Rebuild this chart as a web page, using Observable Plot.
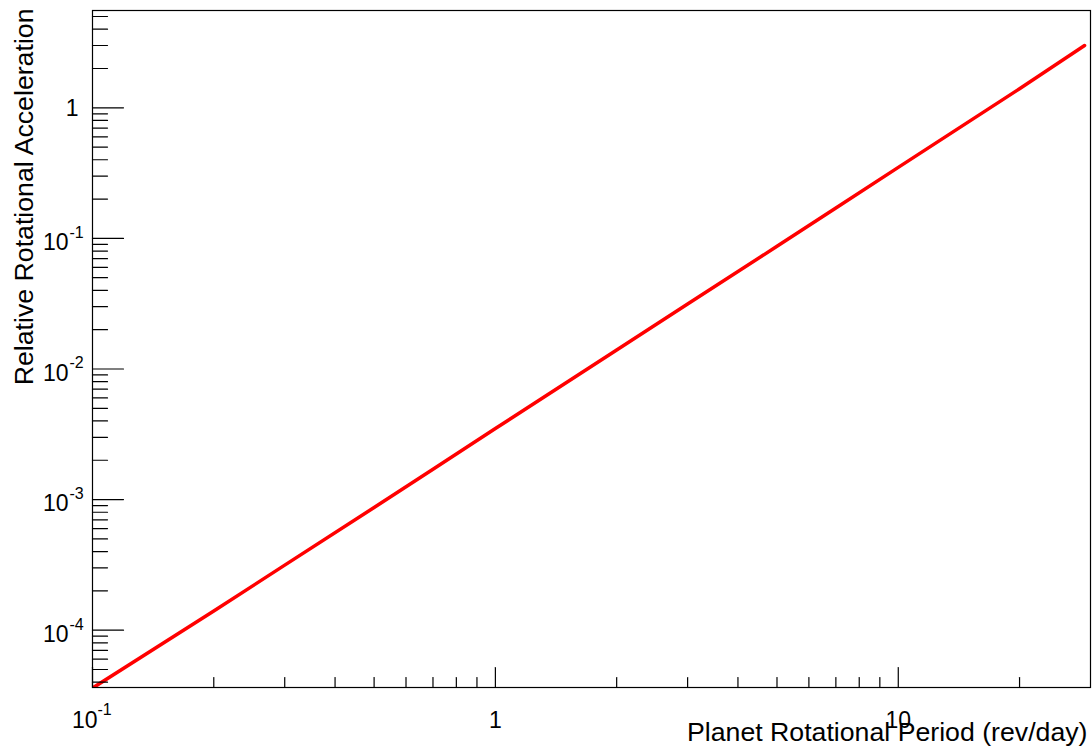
<!DOCTYPE html>
<html><head><meta charset="utf-8">
<script src="https://cdn.jsdelivr.net/npm/d3@7"></script>
<script src="https://cdn.jsdelivr.net/npm/@observablehq/plot@0.6"></script>
<style>body{margin:0;background:#fff}</style>
</head><body><div id="chart"></div>
<script>
// Data
const periods = [0.1, 0.2, 0.3, 0.5, 0.7, 1, 2, 3, 5, 7, 10, 20, 29];
const accel = [3.6e-5, 1.4e-4, 3.15e-4, 8.7e-4, 1.71e-3, 3.5e-3, 1.4e-2, 3.15e-2, 8.7e-2, 0.171, 0.35, 1.4, 3.0];

// Tick values and labels
const xMajorTicks = [0.1, 1, 10];
const xMinorTicks = [0.2, 0.3, 0.4, 0.5, 0.6, 0.7, 0.8, 0.9, 2, 3, 4, 5, 6, 7, 8, 9, 20];
const yMajorTicks = [1e-4, 1e-3, 1e-2, 0.1, 1];
const yMinorTicks = [4e-5, 5e-5, 6e-5, 7e-5, 8e-5, 9e-5,
  2e-4, 3e-4, 4e-4, 5e-4, 6e-4, 7e-4, 8e-4, 9e-4,
  2e-3, 3e-3, 4e-3, 5e-3, 6e-3, 7e-3, 8e-3, 9e-3,
  0.02, 0.03, 0.04, 0.05, 0.06, 0.07, 0.08, 0.09,
  0.2, 0.3, 0.4, 0.5, 0.6, 0.7, 0.8, 0.9,
  2, 3, 4, 5];
const xLabelValues = [0.1, 1, 10];
const xLabelBase = ["10", "1", "10"];
const xLabelExp = ["-1", "", ""];
const yLabelValues = [1e-4, 1e-3, 1e-2, 0.1, 1];
const yLabelBase = ["10", "10", "10", "10", "1"];
const yLabelExp = ["-4", "-3", "-2", "-1", ""];
const xTitle = "Planet Rotational Period (rev/day)";
const yTitle = "Relative Rotational Acceleration";

const data = periods.map((p, i) => ({p, a: accel[i]}));
const xLab = xLabelValues.map((v, i) => ({v, base: xLabelBase[i], exp: xLabelExp[i]}));
const yLab = yLabelValues.map((v, i) => ({v, base: yLabelBase[i], exp: yLabelExp[i]}));
const tickShape = {draw(ctx, l) { ctx.moveTo(0, 0); ctx.lineTo(0, -l); }};
const font = "'Liberation Sans', Arial, Helvetica, sans-serif";
const fs = 23, fsExp = 16, fsTitle = 26.7;
const tickOpts = {shape: tickShape, anchor: "start", stroke: "black", strokeWidth: 1.2};

const chart = Plot.plot({
  width: 1092, height: 749,
  marginLeft: 92, marginRight: 2, marginTop: 10, marginBottom: 62,
  x: {type: "log", domain: [0.1, 30], axis: null},
  y: {type: "log", domain: [3.64e-5, 5.56], axis: null},
  style: {fontFamily: font, background: "white", color: "black"},
  marks: [
    Plot.line(data, {x: "p", y: "a", stroke: "#ff0000", strokeWidth: 3.5, clip: true}),
    Plot.frame({stroke: "black", strokeWidth: 1.2}),
    Plot.vector(xMajorTicks, {x: d => d, frameAnchor: "bottom", length: 20, ...tickOpts}),
    Plot.vector(xMinorTicks, {x: d => d, frameAnchor: "bottom", length: 10, ...tickOpts}),
    Plot.vector(yMajorTicks, {y: d => d, frameAnchor: "left", rotate: 90, length: 31, ...tickOpts}),
    Plot.vector(yMinorTicks, {y: d => d, frameAnchor: "left", rotate: 90, length: 15, ...tickOpts}),
    // x labels with exponent
    Plot.text(xLab.filter(d => d.exp), {x: "v", text: "base", frameAnchor: "bottom", textAnchor: "end", lineAnchor: "bottom", dx: 5, dy: 40, fontSize: fs, fill: "black"}),
    Plot.text(xLab.filter(d => d.exp), {x: "v", text: "exp", frameAnchor: "bottom", textAnchor: "start", lineAnchor: "bottom", dx: 5, dy: 27, fontSize: fsExp, fill: "black"}),
    Plot.text(xLab.filter(d => !d.exp), {x: "v", text: "base", frameAnchor: "bottom", textAnchor: "middle", lineAnchor: "bottom", dx: 0, dy: 40, fontSize: fs, fill: "black"}),
    // y labels
    Plot.text(yLab.filter(d => d.exp), {y: "v", text: "base", frameAnchor: "left", textAnchor: "end", lineAnchor: "bottom", dx: -24, dy: 11.7, fontSize: fs, fill: "black"}),
    Plot.text(yLab.filter(d => d.exp), {y: "v", text: "exp", frameAnchor: "left", textAnchor: "start", lineAnchor: "bottom", dx: -23, dy: -0.5, fontSize: fsExp, fill: "black"}),
    Plot.text(yLab.filter(d => !d.exp), {y: "v", text: "base", frameAnchor: "left", textAnchor: "end", lineAnchor: "bottom", dx: -14, dy: 8, fontSize: fs, fill: "black"}),
    // titles
    Plot.text([xTitle], {frameAnchor: "bottom-right", textAnchor: "end", lineAnchor: "bottom", dx: -3, dy: 53, fontSize: fsTitle, fill: "black"}),
    Plot.text([yTitle], {frameAnchor: "top-left", rotate: -90, textAnchor: "end", lineAnchor: "bottom", dx: -60, dy: -2, fontSize: fsTitle, fill: "black"})
  ]
});
document.getElementById("chart").appendChild(chart);
</script>
</body></html>
